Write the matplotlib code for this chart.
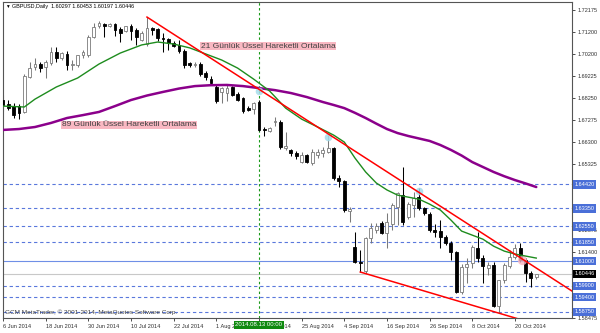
import matplotlib
matplotlib.use("Agg")
import matplotlib.pyplot as plt
from matplotlib.transforms import blended_transform_factory

plt.rcParams['font.family'] = ['Liberation Sans', 'DejaVu Sans']

# GBPUSD daily bars, 6 Jun - 24 Oct 2014
opens = [1.6817, 1.6799, 1.6790, 1.6790, 1.6764, 1.6919, 1.6964, 1.6977, 1.6964, 1.6982,
         1.7031, 1.7004, 1.7022, 1.6973, 1.6973, 1.7017, 1.7017, 1.7097, 1.7146, 1.7155,
         1.7146, 1.7155, 1.7133, 1.7124, 1.7146, 1.7129, 1.7084, 1.7066, 1.7137, 1.7133,
         1.7093, 1.7088, 1.7071, 1.7062, 1.7035, 1.6982, 1.6973, 1.6977, 1.6937, 1.6910,
         1.6875, 1.6853, 1.6848, 1.6875, 1.6844, 1.6826, 1.6781, 1.6777, 1.6808, 1.6688,
         1.6679, 1.6719, 1.6719, 1.6603, 1.6595, 1.6581, 1.6541, 1.6572, 1.6537, 1.6572,
         1.6581, 1.6586, 1.6603, 1.6470, 1.6457, 1.6323, 1.6163, 1.6096, 1.6056, 1.6203,
         1.6239, 1.6270, 1.6225, 1.6265, 1.6341, 1.6394, 1.6296, 1.6350, 1.6385, 1.6336,
         1.6310, 1.6239, 1.6234, 1.6207, 1.6181, 1.6141, 1.5963, 1.6074, 1.6092, 1.6158,
         1.6114, 1.6069, 1.6083, 1.5900, 1.6016, 1.6078, 1.6118, 1.6158, 1.6105, 1.6047,
         1.60297]
highs = [1.6839, 1.6817, 1.6804, 1.6799, 1.6933, 1.6986, 1.7004, 1.6986, 1.6995, 1.7053,
         1.7053, 1.7031, 1.7035, 1.6995, 1.7017, 1.7040, 1.7106, 1.7160, 1.7169, 1.7160,
         1.7160, 1.7160, 1.7142, 1.7146, 1.7155, 1.7137, 1.7124, 1.7186, 1.7142, 1.7137,
         1.7115, 1.7093, 1.7080, 1.7084, 1.7044, 1.6986, 1.6986, 1.6986, 1.6946, 1.6924,
         1.6884, 1.6875, 1.6884, 1.6879, 1.6853, 1.6830, 1.6790, 1.6808, 1.6817, 1.6697,
         1.6697, 1.6741, 1.6728, 1.6675, 1.6599, 1.6590, 1.6586, 1.6577, 1.6599, 1.6599,
         1.6608, 1.6661, 1.6608, 1.6483, 1.6461, 1.6341, 1.6230, 1.6150, 1.6207, 1.6270,
         1.6270, 1.6279, 1.6314, 1.6359, 1.6408, 1.6519, 1.6363, 1.6408, 1.6425, 1.6341,
         1.6319, 1.6265, 1.6283, 1.6216, 1.6190, 1.6145, 1.6087, 1.6114, 1.6172, 1.6230,
         1.6127, 1.6096, 1.6096, 1.6016, 1.6092, 1.6150, 1.6176, 1.6181, 1.6114, 1.6056,
         1.60453]
lows = [1.6768, 1.6773, 1.6737, 1.6732, 1.6759, 1.6915, 1.6951, 1.6942, 1.6915, 1.6973,
        1.6986, 1.6995, 1.6951, 1.6951, 1.6964, 1.7004, 1.7008, 1.7093, 1.7137, 1.7097,
        1.7142, 1.7102, 1.7075, 1.7120, 1.7084, 1.7062, 1.7080, 1.7057, 1.7106, 1.7080,
        1.7031, 1.7040, 1.7053, 1.7026, 1.6959, 1.6964, 1.6964, 1.6924, 1.6906, 1.6888,
        1.6804, 1.6804, 1.6813, 1.6835, 1.6813, 1.6759, 1.6768, 1.6755, 1.6679, 1.6657,
        1.6675, 1.6701, 1.6599, 1.6595, 1.6568, 1.6554, 1.6537, 1.6537, 1.6528, 1.6559,
        1.6563, 1.6581, 1.6461, 1.6430, 1.6319, 1.6274, 1.6092, 1.6052, 1.6047, 1.6181,
        1.6225, 1.6221, 1.6158, 1.6239, 1.6261, 1.6261, 1.6287, 1.6296, 1.6328, 1.6305,
        1.6230, 1.6207, 1.6158, 1.6172, 1.6105, 1.5958, 1.5954, 1.6003, 1.6069, 1.6096,
        1.6003, 1.6038, 1.5896, 1.5869, 1.6003, 1.6069, 1.6109, 1.6096, 1.6007, 1.5985,
        1.60197]
closes = [1.6795, 1.6781, 1.6750, 1.6759, 1.6924, 1.6959, 1.6977, 1.6959, 1.6986, 1.7031,
          1.7004, 1.7026, 1.6973, 1.6977, 1.7017, 1.7031, 1.7097, 1.7142, 1.7160, 1.7146,
          1.7155, 1.7129, 1.7115, 1.7146, 1.7124, 1.7097, 1.7115, 1.7137, 1.7129, 1.7093,
          1.7088, 1.7071, 1.7057, 1.7035, 1.6973, 1.6973, 1.6977, 1.6933, 1.6919, 1.6893,
          1.6813, 1.6870, 1.6870, 1.6839, 1.6817, 1.6768, 1.6773, 1.6804, 1.6684, 1.6684,
          1.6692, 1.6724, 1.6608, 1.6612, 1.6581, 1.6568, 1.6572, 1.6541, 1.6586, 1.6586,
          1.6595, 1.6603, 1.6470, 1.6457, 1.6328, 1.6332, 1.6096, 1.6092, 1.6203, 1.6247,
          1.6256, 1.6225, 1.6274, 1.6350, 1.6403, 1.6274, 1.6354, 1.6381, 1.6336, 1.6314,
          1.6239, 1.6230, 1.6207, 1.6181, 1.6141, 1.5963, 1.6074, 1.6087, 1.6163, 1.6114,
          1.6078, 1.6083, 1.5900, 1.6016, 1.6083, 1.6118, 1.6158, 1.6105, 1.6047, 1.6025,
          1.60446]

# moving averages, sampled from the drawn curves (bar index, price)
ema21_bar = [0, 4, 6, 10, 14, 18, 22, 26, 29, 32, 35, 38, 41, 44, 47, 50, 53, 56, 59, 62,
             64, 66, 68, 70, 72, 74, 76, 78, 80, 82, 84, 86, 88, 90, 92, 94, 96, 98, 100]
ema21_val = [1.6790, 1.6786, 1.6821, 1.6875, 1.6915, 1.6977, 1.7026, 1.7062, 1.7075, 1.7066,
             1.7049, 1.7022, 1.6995, 1.6959, 1.6910, 1.6857, 1.6781, 1.6732, 1.6697, 1.6661,
             1.6630, 1.6559, 1.6497, 1.6448, 1.6417, 1.6394, 1.6385, 1.6376, 1.6354, 1.6328,
             1.6283, 1.6234, 1.6216, 1.6198, 1.6167, 1.6145, 1.6132, 1.6123, 1.6114]
ema89_bar = [0, 3, 6, 9, 12, 15, 18, 21, 24, 27, 30, 33, 36, 39, 42, 45, 48, 51, 54, 57,
             60, 62, 64, 66, 68, 70, 72, 74, 76, 78, 80, 82, 84, 86, 88, 90, 92, 94, 96,
             98, 100]
ema89_val = [1.6684, 1.6688, 1.6697, 1.6715, 1.6737, 1.6750, 1.6764, 1.6790, 1.6817, 1.6837,
             1.6853, 1.6868, 1.6879, 1.6883, 1.6884, 1.6879, 1.6870, 1.6861, 1.6848, 1.6830,
             1.6808, 1.6795, 1.6781, 1.6760, 1.6737, 1.6712, 1.6688, 1.6670, 1.6657, 1.6646,
             1.6635, 1.6617, 1.6595, 1.6570, 1.6541, 1.6519, 1.6497, 1.6478, 1.6461, 1.6446,
             1.6430]

# trend lines (two anchor points each, extended to the right edge)
upper_trend = [(27, 1.7186), (106, 1.5978)]
lower_trend = [(67, 1.6052), (93, 1.5869)]

dashed_levels = [1.64420, 1.63350, 1.62550, 1.61850, 1.59900, 1.59400, 1.58750]
solid_level = 1.61000
bid_price = 1.60446

price_ticks = [1.72175, 1.71200, 1.70200, 1.69225, 1.68250, 1.67275, 1.66300, 1.65325,
               1.64350, 1.63375, 1.62375, 1.61400, 1.60425, 1.59450, 1.58475]
hidden_ticks = [1.64350, 1.63375, 1.60425, 1.59450]  # sit under the level boxes
date_bars = [0, 8, 16, 24, 32, 40, 48, 56, 64, 72, 80, 88, 96]
date_labels = ["6 Jun 2014", "18 Jun 2014", "30 Jun 2014", "10 Jul 2014", "22 Jul 2014",
               "1 Aug 2014", "13 Aug 2014", "25 Aug 2014", "4 Sep 2014", "16 Sep 2014",
               "26 Sep 2014", "8 Oct 2014", "20 Oct 2014"]

touch_points = [(48, 1.6857), (61, 1.6652), (78, 1.6412)]
pink_point = (97.3, 1.6105)

BLUE = '#5a78dc'
BOX_BLUE = '#4a6fd8'

fig = plt.figure(figsize=(6, 3.33), dpi=100)
ax = fig.add_axes([3 / 600, 1 - 318 / 333, 569 / 600, 316 / 333])
ax.set_xlim(0.15, 106.7)
ax.set_ylim(1.5848, 1.7253)

# horizontal levels
for lvl in dashed_levels:
    ax.axhline(lvl, color=BLUE, lw=0.8, ls=(0, (3, 2.5)), zorder=1)
ax.axhline(solid_level, color='#6f8fe6', lw=0.8, zorder=1)
ax.axhline(bid_price, color='#c8c8c8', lw=0.8, zorder=1)
ax.axvline(48, color='#1a9a1a', lw=0.8, ls=(0, (2.2, 2.2)), zorder=1)

# candles
for i, (o, h, l, c) in enumerate(zip(opens, highs, lows, closes)):
    bull = c >= o
    col = '#7a7a7a' if bull else 'black'
    ax.vlines(i, l, h, color=col, lw=0.75, zorder=2)
    body = max(abs(c - o), 0.00008)
    ax.bar(i, body, bottom=min(o, c), width=0.55,
           facecolor='white' if bull else 'black', edgecolor=col, lw=0.6, zorder=3)

# moving averages
ax.plot(ema89_bar, ema89_val, color='#8b008b', lw=1.8, zorder=4, solid_capstyle='round',
        solid_joinstyle='round')
ax.plot(ema21_bar, ema21_val, color='#1e8c1e', lw=1.0, zorder=5, solid_joinstyle='round')


def ray(p0, p1, x_end):
    (x0, y0), (x1, y1) = p0, p1
    slope = (y1 - y0) / (x1 - x0)
    return [x0, x_end], [y0, y0 + slope * (x_end - x0)]


for tl in (upper_trend, lower_trend):
    xs, ys = ray(tl[0], tl[1], 106.7)
    ax.plot(xs, ys, color='#ff0000', lw=1.1, zorder=6)

ax.scatter([p[0] for p in touch_points], [p[1] for p in touch_points],
           s=30, color='#a6dcea', alpha=0.85, zorder=4, linewidths=0)
ax.scatter([pink_point[0]], [pink_point[1]], s=45, color='#f6b4c0', alpha=0.8,
           zorder=4, linewidths=0)

# text objects on the chart
ax.text(37.1, 1.7057, "21 Günlük Üssel Hareketli Ortalama", fontsize=6.0, color='#404040',
        ha='left', va='center', zorder=7,
        bbox=dict(boxstyle='square,pad=0.1', fc='#f9b8c2', ec='none'))
ax.text(11.0, 1.6706, "89 Günlük Üssel Hareketli Ortalama", fontsize=6.0, color='#404040',
        ha='left', va='center', zorder=7,
        bbox=dict(boxstyle='square,pad=0.1', fc='#f9b8c2', ec='none'))
ax.text(0.003, 0.985, "▼", transform=ax.transAxes, fontsize=3.4, color='black',
        ha='left', va='center')
ax.text(0.016, 0.986, "GBPUSD,Daily  1.60297 1.60453 1.60197 1.60446",
        transform=ax.transAxes, fontsize=3.9, color='black', ha='left', va='center')
ax.text(0.004, 0.017, "GCM MetaTrader, © 2001-2014, MetaQuotes Software Corp.",
        transform=ax.transAxes, fontsize=4.6, color='#404040', ha='left', va='center')

# axes styling
for sp in ax.spines.values():
    sp.set_color('#555555')
    sp.set_linewidth(0.8)
ax.yaxis.tick_right()
ax.set_yticks(price_ticks)
ax.set_yticklabels(["" if p in hidden_ticks else f"{p:.5f}" for p in price_ticks])
ax.tick_params(axis='y', direction='out', length=2.5, width=0.6, pad=1.5,
               labelsize=4.0, colors='#303030')
ax.set_xticks(date_bars)
ax.set_xticklabels(date_labels)
ax.tick_params(axis='x', direction='out', length=2.5, width=0.6, pad=1.5,
               labelsize=4.1, colors='#303030')
for lab in ax.get_xticklabels():
    lab.set_ha('left')

# highlighted price labels on the right scale
ytr = blended_transform_factory(ax.transAxes, ax.transData)
for lvl in dashed_levels + [solid_level]:
    ax.text(1.004, lvl, f"{lvl:.5f}", transform=ytr, fontsize=4.0, color='white',
            ha='left', va='center', clip_on=False, zorder=8,
            bbox=dict(boxstyle='square,pad=0.3', fc=BOX_BLUE, ec='none'))
ax.text(1.004, bid_price, f"{bid_price:.5f}", transform=ytr, fontsize=4.0, color='white',
        ha='left', va='center', clip_on=False, zorder=9,
        bbox=dict(boxstyle='square,pad=0.3', fc='black', ec='none'))

# time cursor label
xtr = blended_transform_factory(ax.transData, ax.transAxes)
ax.text(48, -0.022, "2014.08.13 00:00", transform=xtr, fontsize=4.3, color='white',
        ha='center', va='center', clip_on=False, zorder=9,
        bbox=dict(boxstyle='square,pad=0.25', fc='#108a10', ec='none'))

fig.savefig("out.png", dpi=100, facecolor='white')
